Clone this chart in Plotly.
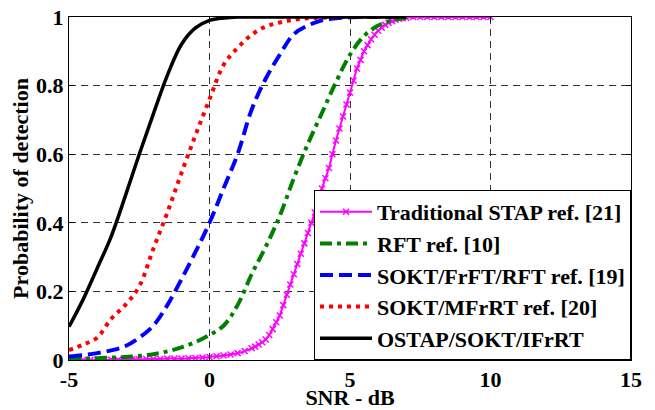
import plotly.graph_objects as go

# ---- data ----
snr_short = [-5, -4.5, -4, -3.5, -3, -2.5, -2, -1.5, -1, -0.5, 0, 0.5, 1, 1.5, 2, 2.5,
             3, 3.5, 4, 4.5, 5, 5.5, 6, 6.5, 7]

pd_ostap = [0.097, 0.176, 0.267, 0.36, 0.477, 0.60, 0.717, 0.83, 0.92, 0.968, 0.99, 0.997,
            1.0, 1.0, 1.0, 1.0, 1.0, 1.0, 1.0, 1.0, 1.0, 1.0, 1.0, 1.0, 1.0]
pd_mfrrt = [0.029, 0.045, 0.065, 0.12, 0.16, 0.215, 0.324, 0.43, 0.545, 0.655, 0.76, 0.86,
            0.91, 0.948, 0.972, 0.984, 0.992, 0.996, 0.998, 1.0, 1.0, 1.0, 1.0, 1.0, 1.0]
pd_frft = [0.01, 0.014, 0.02, 0.028, 0.04, 0.065, 0.10, 0.16, 0.235, 0.315, 0.40, 0.50,
           0.60, 0.73, 0.82, 0.89, 0.95, 0.975, 0.99, 0.996, 0.999, 1.0, 1.0, 1.0, 1.0]
pd_rft = [0.003, 0.004, 0.005, 0.007, 0.009, 0.012, 0.017, 0.025, 0.037, 0.052, 0.073, 0.10,
          0.16, 0.25, 0.33, 0.42, 0.53, 0.63, 0.72, 0.81, 0.89, 0.945, 0.975, 0.99, 0.998]

snr_stap = [-5, -4.75, -4.5, -4.25, -4, -3.75, -3.5, -3.25, -3, -2.75, -2.5, -2.25, -2, -1.75,
            -1.5, -1.25, -1, -0.75, -0.5, -0.25, 0, 0.25, 0.5, 0.75, 1, 1.25,
            1.5, 1.625, 1.75, 1.875, 2, 2.125, 2.25, 2.375, 2.5, 2.625, 2.75, 2.875,
            3, 3.125, 3.25, 3.375, 3.5, 3.625, 3.75, 3.875, 4, 4.125, 4.25, 4.375,
            4.5, 4.625, 4.75, 4.875, 5, 5.125, 5.25, 5.375, 5.5, 5.625, 5.75, 5.875,
            6, 6.125, 6.25, 6.375, 6.5, 6.625, 6.75, 6.875, 7,
            7.25, 7.5, 7.75, 8, 8.25, 8.5, 8.75, 9, 9.25, 9.5, 9.75, 10]
pd_stap = [0.0, 0.0, 0.0, 0.0, 0.001, 0.001, 0.001, 0.001, 0.002, 0.002, 0.002, 0.003, 0.003,
           0.003, 0.004, 0.004, 0.004, 0.005, 0.006, 0.007, 0.009, 0.011, 0.013, 0.016, 0.02,
           0.026,
           0.034, 0.039, 0.045, 0.052, 0.06, 0.073, 0.09, 0.11, 0.13, 0.16, 0.19, 0.22,
           0.25, 0.28, 0.31, 0.34, 0.37, 0.40, 0.43, 0.465, 0.50, 0.53, 0.56, 0.60,
           0.64, 0.675, 0.71, 0.745, 0.78, 0.815, 0.85, 0.875, 0.90, 0.918, 0.935, 0.948,
           0.96, 0.969, 0.977, 0.983, 0.988, 0.992, 0.995, 0.997, 0.998,
           1.0, 1.0, 1.0, 1.0, 1.0, 1.0, 1.0, 1.0, 1.0, 1.0, 1.0, 1.0]

names = ["Traditional STAP ref. [21]", "RFT ref. [10]", "SOKT/FrFT/RFT ref. [19]",
         "SOKT/MFrRT ref. [20]", "OSTAP/SOKT/IFrRT"]
x_ticks = [-5, 0, 5, 10, 15]
x_tick_labels = ["-5", "0", "5", "10", "15"]
y_ticks = [0, 0.2, 0.4, 0.6, 0.8, 1]
y_tick_labels = ["0", "0.2", "0.4", "0.6", "0.8", "1"]

FONT = "Liberation Serif"

fig = go.Figure()
fig.add_trace(go.Scatter(x=snr_stap, y=pd_stap, name=names[0], mode="lines+markers",
                         line=dict(color="#ff00ff", width=2, shape="spline"),
                         marker=dict(symbol="x-thin", size=6, color="#ff00ff",
                                     line=dict(color="#ff00ff", width=1.5)),
                         legendgroup="a"))
fig.add_trace(go.Scatter(x=snr_short, y=pd_rft, name=names[1], mode="lines",
                         line=dict(color="#008000", width=4, dash="12px,5px,4px,5px",
                                   shape="spline"), legendgroup="b"))
fig.add_trace(go.Scatter(x=snr_short, y=pd_frft, name=names[2], mode="lines",
                         line=dict(color="#0000ff", width=4, dash="13px,6px", shape="spline"),
                         legendgroup="c"))
fig.add_trace(go.Scatter(x=snr_short, y=pd_mfrrt, name=names[3], mode="lines",
                         line=dict(color="#ff0000", width=4, dash="4px,5px", shape="spline"),
                         legendgroup="d"))
fig.add_trace(go.Scatter(x=snr_short, y=pd_ostap, name=names[4], mode="lines",
                         line=dict(color="#000000", width=3.5, shape="spline"),
                         legendgroup="e"))

axis_common = dict(showline=True, linecolor="black", linewidth=1, mirror="ticks",
                   ticks="inside", ticklen=5, tickcolor="black", zeroline=False,
                   showgrid=True, gridcolor="#333333", gridwidth=1, griddash="7px,5px",
                   tickfont=dict(family=FONT, size=22, color="black", weight="bold"))

fig.update_xaxes(range=[-5, 15], tickvals=x_ticks, ticktext=x_tick_labels,
                 title=dict(text="SNR - dB", standoff=3,
                            font=dict(family=FONT, size=22, color="black", weight="bold")),
                 **axis_common)
fig.update_yaxes(range=[0, 1], tickvals=y_ticks, ticktext=y_tick_labels,
                 title=dict(text="Probability of detection", standoff=1,
                            font=dict(family=FONT, size=22, color="black", weight="bold")),
                 **axis_common)

fig.update_layout(
    width=655, height=410,
    margin=dict(l=69, r=24, t=17, b=50, autoexpand=False),
    paper_bgcolor="white", plot_bgcolor="white",
    showlegend=True,
    legend=dict(x=1, y=0, xanchor="right", yanchor="bottom",
                bgcolor="white", bordercolor="black", borderwidth=1,
                font=dict(family=FONT, size=22, color="black", weight="bold"),
                itemwidth=52, tracegroupgap=0, traceorder="normal"),
)

fig.write_html("out.html")
